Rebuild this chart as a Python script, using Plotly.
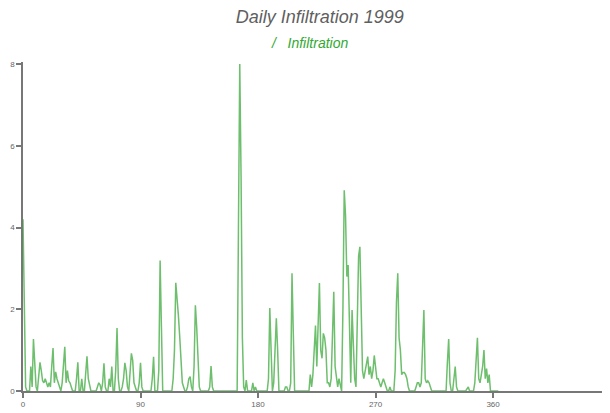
import plotly.graph_objects as go

# Daily infiltration values, day 0 .. 364
infiltration = [
    4.2, 2.0, 0.1, 0.0, 0.0, 0.0, 0.6, 0.1, 1.27, 0.7,       # 0-9
    0.1, 0.0, 0.3, 0.7, 0.5, 0.25, 0.2, 0.3, 0.2, 0.1,       # 10-19
    0.2, 0.1, 0.6, 1.05, 0.2, 0.47, 0.3, 0.2, 0.1, 0.0,      # 20-29
    0.2, 0.6, 1.08, 0.2, 0.5, 0.25, 0.2, 0.1, 0.0, 0.0,      # 30-39
    0.0, 0.3, 0.7, 0.0, 0.0, 0.3, 0.0, 0.0, 0.4, 0.85,       # 40-49
    0.3, 0.1, 0.0, 0.0, 0.0, 0.0, 0.0, 0.1, 0.2, 0.15,       # 50-59
    0.0, 0.2, 0.68, 0.1, 0.0, 0.0, 0.3, 0.1, 0.6, 0.0,       # 60-69
    0.0, 0.5, 1.54, 0.3, 0.0, 0.0, 0.1, 0.3, 0.69, 0.5,      # 70-79
    0.1, 0.0, 0.4, 0.92, 0.75, 0.2, 0.1, 0.0, 0.0, 0.2,      # 80-89
    0.69, 0.1, 0.0, 0.0, 0.0, 0.0, 0.0, 0.0, 0.0, 0.3,       # 90-99
    0.84, 0.0, 0.0, 0.0, 0.5, 3.19, 1.57, 0.0, 0.0, 0.0,     # 100-109
    0.0, 0.0, 0.0, 0.0, 0.0, 0.3, 1.0, 2.65, 2.3, 1.85,      # 110-119
    1.34, 0.84, 0.2, 0.1, 0.0, 0.0, 0.1, 0.3, 0.35, 0.1,     # 120-129
    0.0, 0.6, 2.1, 1.57, 0.8, 0.1, 0.0, 0.0, 0.0, 0.0,       # 130-139
    0.0, 0.0, 0.0, 0.1, 0.61, 0.1, 0.0, 0.0, 0.0, 0.0,       # 140-149
    0.0, 0.0, 0.0, 0.0, 0.0, 0.0, 0.0, 0.0, 0.0, 0.0,        # 150-159
    0.0, 0.0, 0.0, 0.0, 0.0, 4.0, 8.0, 5.25, 1.3, 0.1,       # 160-169
    0.0, 0.27, 0.0, 0.0, 0.0, 0.0, 0.2, 0.0, 0.1, 0.0,       # 170-179
    0.0, 0.0, 0.0, 0.0, 0.0, 0.0, 0.0, 0.0, 0.3, 2.03,       # 180-189
    1.0, 0.0, 0.2, 1.0, 1.78, 1.0, 0.0, 0.0, 0.0, 0.0,       # 190-199
    0.0, 0.1, 0.1, 0.0, 0.0, 0.2, 2.88, 1.42, 0.0, 0.0,      # 200-209
    0.0, 0.0, 0.0, 0.0, 0.0, 0.0, 0.0, 0.0, 0.0, 0.0,        # 210-219
    0.4, 0.1, 0.4, 1.05, 1.6, 0.6, 1.49, 2.64, 1.0, 0.8,     # 220-229
    1.41, 1.3, 1.0, 0.2, 0.2, 0.1, 0.3, 1.3, 2.43, 0.6,      # 230-239
    0.3, 0.1, 0.3, 0.1, 0.0, 2.0, 4.91, 4.3, 2.8, 3.08,      # 240-249
    1.2, 0.2, 1.98, 1.0, 0.3, 0.1, 1.7, 3.3, 3.53, 1.7,      # 250-259
    0.5, 0.3, 0.5, 0.6, 0.84, 0.4, 0.6, 0.3, 0.5, 0.87,      # 260-269
    0.5, 0.3, 0.3, 0.2, 0.1, 0.2, 0.3, 0.2, 0.1, 0.0,        # 270-279
    0.0, 0.1, 0.0, 0.0, 0.0, 0.5, 2.18, 2.88, 1.3, 1.0,      # 280-289
    0.4, 0.45, 0.45, 0.4, 0.3, 0.1, 0.0, 0.0, 0.0, 0.0,      # 290-299
    0.0, 0.1, 0.2, 0.2, 0.1, 0.2, 1.05, 1.98, 0.3, 0.2,      # 300-309
    0.25, 0.2, 0.1, 0.0, 0.0, 0.0, 0.0, 0.0, 0.0, 0.0,       # 310-319
    0.0, 0.0, 0.0, 0.0, 0.0, 0.7, 1.27, 0.2, 0.0, 0.0,       # 320-329
    0.3, 0.6, 0.1, 0.0, 0.0, 0.0, 0.0, 0.0, 0.0, 0.0,        # 330-339
    0.05, 0.1, 0.0, 0.0, 0.0, 0.0, 0.2, 0.65, 1.3, 0.3,      # 340-349
    0.2, 0.4, 0.6, 1.0, 0.3, 0.55, 0.2, 0.4, 0.0, 0.0,       # 350-359
    0.0, 0.0, 0.0, 0.0, 0.0,                                 # 360-364
]
days = list(range(len(infiltration)))

x_ticks = [0, 90, 180, 270, 360]
y_ticks = [0, 2, 4, 6, 8]

FONT = "Liberation Sans, Arial, sans-serif"

fig = go.Figure()
fig.add_trace(go.Scatter(
    x=days, y=infiltration, mode="lines", name="Infiltration",
    line=dict(color="rgba(20,150,20,0.62)", width=1.5),
    showlegend=False,
))

# legend-like label above the plot
fig.add_annotation(
    x=0.42, y=1.0, xref="paper", yref="paper", yshift=19,
    text="<i>/   Infiltration</i>", showarrow=False,
    font=dict(family=FONT, size=14, color="#33a833"),
    xanchor="left", yanchor="middle",
)

fig.update_layout(
    width=602, height=405,
    margin=dict(l=15, r=2, t=54, b=22),
    paper_bgcolor="white", plot_bgcolor="white",
    title=dict(
        text="Daily Infiltration 1999",
        x=0.518, xanchor="center", y=0.978, yanchor="middle",
        font=dict(family=FONT, size=18, color="#5f5f5f", style="italic"),
    ),
    font=dict(family=FONT, size=8, color="#666666"),
)
fig.update_xaxes(
    range=[0, 448], tickvals=x_ticks, ticktext=[str(v) for v in x_ticks],
    showgrid=False, zeroline=False, showline=True, linecolor="#777777", linewidth=1.5,
    ticks="outside", ticklen=5, tickwidth=1.5, tickcolor="#777777",
    tickfont=dict(size=8, color="#666666"), automargin=False,
)
fig.update_yaxes(
    range=[0, 8.05], tickvals=y_ticks, ticktext=[str(v) for v in y_ticks],
    showgrid=False, zeroline=False, showline=True, linecolor="#777777", linewidth=1.5,
    ticks="outside", ticklen=5, tickwidth=1.5, tickcolor="#777777",
    tickfont=dict(size=8, color="#666666"), automargin=False,
)

fig.write_html("out.html")
